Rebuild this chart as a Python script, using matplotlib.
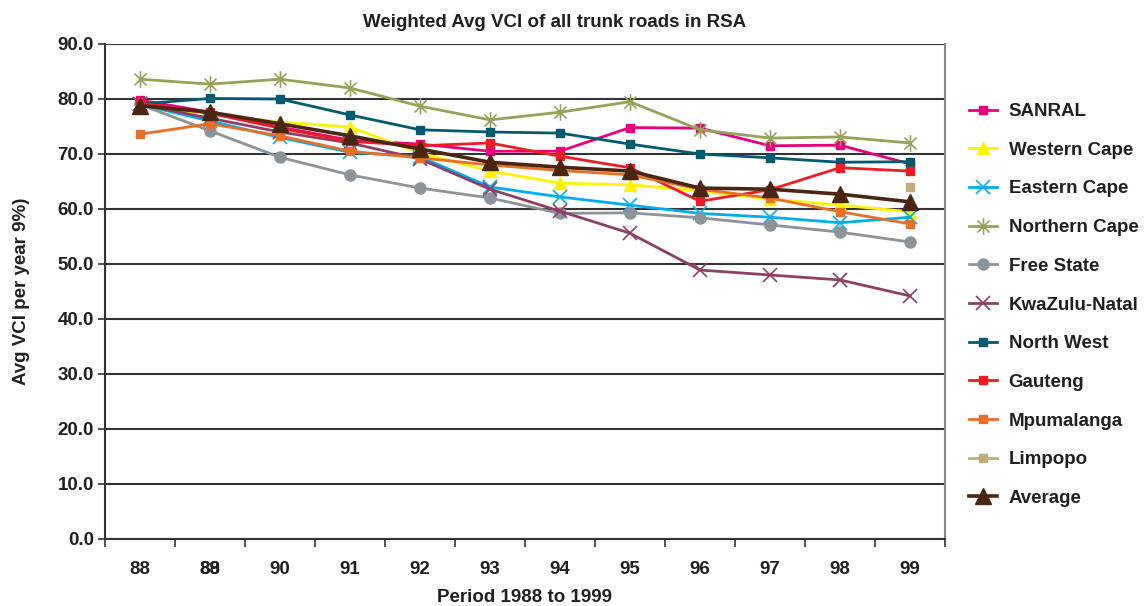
import numpy as np
import matplotlib
matplotlib.use("Agg")
import matplotlib.pyplot as plt
from matplotlib.path import Path
from matplotlib.transforms import blended_transform_factory

plt.rcParams['font.family'] = ['Liberation Sans', 'DejaVu Sans']
plt.rcParams['font.weight'] = 'bold'

years = ["88", "89", "90", "91", "92", "93", "94", "95", "96", "97", "98", "99"]
nan = np.nan

sanral = [79.8, 77.6, 74.9, 72.5, 71.8, 70.5, 70.5, 74.8, 74.7, 71.5, 71.6, 68.2]
western_cape = [79.0, 77.2, 75.8, 74.9, 70.2, 66.9, 64.7, 64.4, 63.3, 61.8, 60.7, 59.5]
eastern_cape = [79.0, 76.0, 73.0, 70.3, 69.5, 64.0, 62.2, 60.7, 59.2, 58.5, 57.5, 58.5]
northern_cape = [83.6, 82.7, 83.6, 82.0, 78.7, 76.2, 77.6, 79.5, 74.4, 72.9, 73.1, 72.0]
free_state = [79.0, 74.2, 69.4, 66.2, 63.8, 62.0, 59.2, 59.3, 58.4, 57.1, 55.8, 54.0]
kwazulu_natal = [79.0, 76.5, 74.0, 72.0, 69.1, 63.6, 59.6, 55.6, 48.9, 48.0, 47.1, 44.2]
north_west = [79.1, 80.1, 80.0, 77.1, 74.4, 74.0, 73.8, 71.8, 70.0, 69.3, 68.5, 68.6]
gauteng = [79.3, 77.4, 74.7, 72.3, 71.5, 72.0, 69.6, 67.5, 61.4, 63.5, 67.5, 66.9]
mpumalanga = [73.6, 75.5, 73.3, 70.5, 69.3, 68.0, 67.0, 66.2, 63.6, 62.0, 59.5, 57.3]
limpopo = [nan, nan, nan, nan, nan, nan, nan, nan, nan, nan, nan, 64.0]
average = [78.8, 77.6, 75.5, 73.3, 70.9, 68.5, 67.6, 66.9, 63.8, 63.6, 62.7, 61.3]

# asterisk glyph: vertical bar crossed by an X
star_path = Path(
    [(0, -1), (0, 1), (-0.72, -0.72), (0.72, 0.72), (-0.72, 0.72), (0.72, -0.72)],
    [Path.MOVETO, Path.LINETO, Path.MOVETO, Path.LINETO, Path.MOVETO, Path.LINETO],
)

series = [
    ("SANRAL", sanral, "#E6007E", "s", 6, 2.0),
    ("Western Cape", western_cape, "#FFF200", "^", 8, 2.0),
    ("Eastern Cape", eastern_cape, "#00AEEF", "x", 10, 2.0),
    ("Northern Cape", northern_cape, "#98A158", star_path, 12, 2.0),
    ("Free State", free_state, "#8C9399", "o", 8, 2.0),
    ("KwaZulu-Natal", kwazulu_natal, "#8E3F63", "x", 10, 2.0),
    ("North West", north_west, "#005A70", "s", 6, 2.0),
    ("Gauteng", gauteng, "#ED1C24", "s", 6, 2.0),
    ("Mpumalanga", mpumalanga, "#E86F25", "s", 6, 2.0),
    ("Limpopo", limpopo, "#BFAF77", "s", 6, 2.0),
    ("Average", average, "#4A2511", "^", 11, 2.6),
]

fig = plt.figure(figsize=(11.44, 6.06), dpi=100)
ax = fig.add_axes([0.0918, 0.1106, 0.7342, 0.8168])

x = np.arange(len(years))
for name, vals, col, mk, ms, lw in series:
    ax.plot(x, vals, color=col, lw=lw, marker=mk, markersize=ms,
            markeredgewidth=1.2 if mk in ("x",) or mk is star_path else 1.0,
            markeredgecolor=col, markerfacecolor=col, label=name,
            solid_joinstyle='round')

ax.set_xlim(-0.5, len(years) - 0.5)
ax.set_ylim(0, 90)
ax.set_yticks(np.arange(0, 91, 10))
ax.set_yticklabels([f"{v:.1f}" for v in np.arange(0, 91, 10)])
ax.set_xticks(x)
ax.set_xticklabels(years)
ax.set_xticks(np.arange(-0.5, len(years), 1.0), minor=True)
ax.tick_params(axis='x', which='major', length=0, pad=16, labelsize=13.5,
               colors='#231F20')
ax.tick_params(axis='x', which='minor', length=6, width=1.2, color='#333333')
ax.tick_params(axis='y', length=5, width=1.2, color='#333333', pad=3,
               labelsize=13.5, labelcolor='#231F20')

ax.yaxis.grid(True, color='#333333', lw=1.5)
ax.set_axisbelow(True)
ax.spines['top'].set_visible(False)
ax.spines['left'].set_color('#333333')
ax.spines['left'].set_linewidth(1.5)
ax.spines['bottom'].set_color('#333333')
ax.spines['bottom'].set_linewidth(1.5)
ax.spines['right'].set_color('#888888')
ax.spines['right'].set_linewidth(1.5)

# second label printed over the "89" tick label
trans = blended_transform_factory(ax.transData, ax.transAxes)
ax.annotate("88", xy=(1, 0), xycoords=trans, xytext=(0, -16),
            textcoords='offset points', ha='center', va='top',
            fontsize=13.5, fontweight='bold', color='#231F20')

ax.set_ylabel("Avg VCI per year 9%)", fontsize=13.5, fontweight='bold',
              color='#231F20', labelpad=20)
ax.set_xlabel("Period 1988 to 1999", fontsize=13.5, fontweight='bold',
              color='#231F20', labelpad=8)
fig.text(0.485, 0.963, "Weighted Avg VCI of all trunk roads in RSA",
         ha='center', va='center', fontsize=13.5, fontweight='bold',
         color='#231F20')

leg = ax.legend(loc='upper left', bbox_to_anchor=(1.02, 0.896), frameon=False,
                fontsize=13.5, handlelength=1.5, handletextpad=0.6,
                labelspacing=1.15, borderaxespad=0)
for t in leg.get_texts():
    t.set_color('#231F20')

fig.savefig("out.png", dpi=100)
